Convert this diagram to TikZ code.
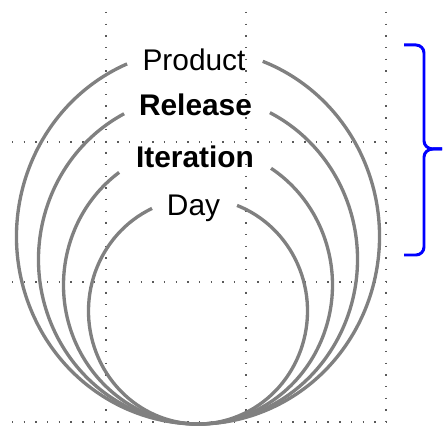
\documentclass[tikz,border=0pt]{standalone}
\usepackage{fontspec}
\setmainfont{Liberation Sans}

\begin{document}
\begin{tikzpicture}[x=0.02cm,y=0.02cm,
  ring/.style={draw=gray,line width=1.9pt},
  gridline/.style={draw=black!65,line width=0.8pt,dash pattern=on 0.8pt off 5.85pt},
  levelname/.style={anchor=base,font=\fontsize{17}{20}\selectfont},
  boldname/.style={levelname,font=\fontsize{17}{20}\selectfont\bfseries},
  timebrace/.style={draw=blue,line width=1.7pt,line join=round}]
\useasboundingbox (0,0) rectangle (443,432);

% Draw the dotted guide grid
\foreach \x in {106,246,386}
  \draw[gridline] (\x,420) -- (\x,10);
\foreach \y in {290,150,10}
  \draw[gridline] (12,\y) -- (386,\y);

% Draw the nested rings, all touching at the bottom, open at the top
\foreach \a/\b/\s/\e in {181.5/187.5/113/429.1, 159.5/164.5/117.6/423.2,
                         134.5/139/125.9/417.1, 109.5/113/114.8/429.1}
  \draw[ring] ({198+\a*cos(\s)},{8+\b+\b*sin(\s)}) arc[start angle=\s, end angle=\e, x radius=\a, y radius=\b];

% Names of the rings
\node[levelname] (product) at (194,361) {Product};
\node[boldname] (release) at (195.5,316) {Release};
\node[boldname] (iteration) at (195,264) {Iteration};
\node[levelname] (day) at (193.5,216) {Day};

% Brace on the right
\coordinate (bracetop) at (404,387);
\coordinate (bracetip) at (442,283);
\coordinate (bracebottom) at (404,177);
\draw[timebrace] (bracetop) -- ++(12,0) to[out=0,in=90] ++(8,-8) -- (424,291)
  to[out=-90,in=180] ++(9,-8) -- (bracetip);
\draw[timebrace] (bracetip) -- ++(-9,0) to[out=180,in=90] ++(-9,-8) -- (424,185)
  to[out=-90,in=0] ++(-8,-8) -- (bracebottom);
\end{tikzpicture}
\end{document}
